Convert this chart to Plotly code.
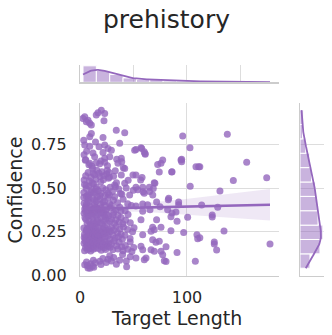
import numpy as np
import plotly.graph_objects as go

# ---- data (Target Length vs Confidence), grouped by confidence band ----
len_b1 = [19.9, 16.8, 23.1, 22.4, 15.2, 4.4, 7.5, 2.8, 5.9]
conf_b1 = [0.948, 0.933, 0.929, 0.887, 0.920, 0.910, 0.890, 0.900, 0.881]

len_b2 = [9.1, 10.6, 33.9, 41.8, 10.6, 9.1, 21.5, 137.7, 96.0]
conf_b2 = [0.872, 0.862, 0.833, 0.818, 0.814, 0.795, 0.791, 0.809, 0.799]

len_b3 = [37.1, 4.4, 9.1, 23.1, 26.2, 12.1, 29.3, 21.5, 3.5, 14.5, 6.2, 17.8,
          102.8, 57.0, 60.0, 52.3, 57.7, 51.1]
conf_b3 = [0.757, 0.747, 0.741, 0.747, 0.728, 0.702, 0.718, 0.705, 0.775, 0.765, 0.712, 0.738,
           0.732, 0.732, 0.709, 0.722, 0.728, 0.718]

len_b4 = [13.7, 23.1, 27.8, 38.6, 34.3, 39.0, 9.1, 15.2, 18.4, 23.1, 35.5, 40.5, 5.0, 11.0, 3.8,
          5.3, 8.3, 11.9, 19.6, 25.7,
          61.0, 60.7, 77.3, 75.7, 72.6, 95.0, 95.0, 94.4, 108.4, 110.9, 112.0, 155.8]
conf_b4 = [0.680, 0.671, 0.680, 0.671, 0.665, 0.651, 0.643, 0.645, 0.640, 0.648, 0.642, 0.617, 0.660, 0.625, 0.692,
           0.662, 0.634, 0.612, 0.655, 0.628,
           0.694, 0.699, 0.661, 0.642, 0.636, 0.665, 0.651, 0.661, 0.622, 0.622, 0.622, 0.649]

len_b5 = [41.8, 38.6, 49.5,
          7.6, 12.3, 15.8, 20.4, 24.9, 27.2, 5.3, 10.1, 13.6, 18.7, 22.2, 26.6, 31.4, 3.9, 8.8, 14.9,
          33.0, 45.0, 19.3, 17.7, 21.9, 25.4, 27.5,
          74.1, 85.7, 86.0, 58.0, 56.7, 52.3, 143.3, 174.5]
conf_b5 = [0.613, 0.575, 0.575,
           0.590, 0.585, 0.602, 0.594, 0.581, 0.589, 0.570, 0.560, 0.576, 0.566, 0.571, 0.556, 0.568, 0.546, 0.541, 0.551,
           0.600, 0.545, 0.535, 0.585, 0.548, 0.603, 0.562,
           0.592, 0.592, 0.594, 0.561, 0.546, 0.575, 0.544, 0.559]

len_b6 = [32.4, 41.8, 49.8, 13.7, 19.9, 26.2, 5.9, 32.4, 46.4,
          4.2, 8.3, 11.2, 15.4, 17.1, 21.3, 24.2, 28.1, 30.3, 36.2, 39.1,
          7.1, 10.4, 23.3, 3.6, 12.7, 18.6, 27.4, 34.1, 43.2,
          5.7, 8.1, 11.4, 13.2, 15.1, 6.0, 33.0, 37.8,
          69.4, 103.0, 58.6, 64.8, 52.3, 54.0, 60.0, 65.0, 68.0, 70.0, 59.0, 68.5, 130.8]
conf_b6 = [0.517, 0.527, 0.488, 0.470, 0.470, 0.472, 0.498, 0.450, 0.460,
           0.520, 0.510, 0.490, 0.505, 0.485, 0.500, 0.490, 0.505, 0.480, 0.495, 0.465,
           0.460, 0.475, 0.455, 0.475, 0.525, 0.455, 0.460, 0.530, 0.500,
           0.515, 0.462, 0.528, 0.478, 0.495, 0.452, 0.508, 0.468,
           0.530, 0.511, 0.504, 0.504, 0.504, 0.490, 0.470, 0.480, 0.460, 0.527, 0.479, 0.498, 0.483]

len_b7 = [7.5, 15.2, 21.5, 29.3, 37.1, 48.0, 10.6, 4.4, 20.0, 24.6,
          3.5, 6.1, 9.2, 12.4, 13.7, 17.3, 18.6, 23.2, 26.1, 27.6, 31.2, 33.4, 35.1, 40.3, 42.2, 44.6,
          5.2, 8.1, 11.6, 14.2, 16.3, 19.1, 22.4, 28.3, 38.2,
          5.2, 8.2, 10.8, 13.4, 15.2, 3.9, 16.8, 22.9,
          71.6, 82.5, 92.2, 92.2, 58.6, 63.2, 52.3, 65.4, 58.6, 81.9, 113.7, 128.7, 82.9, 74.8, 89.7]
conf_b7 = [0.430, 0.425, 0.420, 0.400, 0.390, 0.400, 0.380, 0.380, 0.385, 0.375,
           0.445, 0.410, 0.395, 0.440, 0.405, 0.370, 0.435, 0.400, 0.445, 0.410, 0.430, 0.375, 0.415, 0.435, 0.370, 0.410,
           0.365, 0.445, 0.362, 0.390, 0.450, 0.405, 0.365, 0.385, 0.368,
           0.392, 0.418, 0.372, 0.428, 0.386, 0.412, 0.378, 0.422,
           0.420, 0.433, 0.420, 0.404, 0.408, 0.404, 0.397, 0.375, 0.366, 0.375, 0.402, 0.389, 0.441, 0.393, 0.362]

len_b8 = [30.8, 35.5, 44.9, 7.5, 15.2, 23.0, 3.8,
          5.4, 6.7, 8.3, 9.9, 10.3, 11.9, 12.6, 13.9, 14.4, 16.6, 17.3, 18.9, 19.4, 20.7, 21.6, 22.8, 24.1, 25.6,
          26.7, 28.0, 29.5, 32.2, 33.6, 36.7, 38.4, 40.1, 42.6,
          47.0, 4.6, 7.2, 11.0, 15.8, 19.9, 25.0, 31.5,
          86.0, 90.7, 100.6, 71.6, 57.0, 85.0, 123.6, 123.6]
conf_b8 = [0.345, 0.342, 0.348, 0.339, 0.339, 0.336, 0.355,
           0.320, 0.298, 0.310, 0.350, 0.290, 0.325, 0.305, 0.358, 0.295, 0.318, 0.350, 0.300, 0.330, 0.292, 0.355, 0.312, 0.325, 0.298,
           0.340, 0.308, 0.322, 0.296, 0.318, 0.305, 0.330, 0.295, 0.315,
           0.300, 0.330, 0.360, 0.342, 0.302, 0.360, 0.350, 0.360,
           0.356, 0.309, 0.332, 0.318, 0.318, 0.335, 0.345, 0.333]

len_b9 = [3.6, 4.2, 4.9, 5.8, 6.4, 6.9, 7.4, 7.9, 8.8, 9.2, 9.7, 10.1, 10.6, 11.0, 11.5, 12.4, 12.8,
          13.3, 13.7, 14.2, 14.6, 15.0, 15.5, 3.9, 6.1, 9.5,
          16.4, 17.0, 17.7, 18.3, 19.0, 20.3, 21.0, 21.6, 22.3, 23.0, 23.6, 24.3, 25.0, 26.4, 27.1, 27.8, 28.4, 16.9,
          29.5, 30.6, 31.7, 32.8, 33.9, 35.0, 36.1, 37.3, 38.4, 39.6, 40.7,
          42.0, 44.5, 46.8, 49.1, 50.5,
          134.6, 112.0, 67.9, 69.4, 66.4, 75.7, 85.0, 96.9, 109.3, 110.0, 58.6, 67.9]
conf_b9 = [0.270, 0.235, 0.212, 0.250, 0.222, 0.268, 0.205, 0.245, 0.228, 0.262, 0.210, 0.240, 0.275, 0.218, 0.255, 0.232, 0.208,
           0.265, 0.242, 0.225, 0.278, 0.252, 0.215, 0.215, 0.260, 0.285,
           0.238, 0.270, 0.212, 0.255, 0.229, 0.246, 0.207, 0.266, 0.236, 0.275, 0.218, 0.259, 0.243, 0.225, 0.262, 0.205, 0.250, 0.222,
           0.272, 0.230, 0.258, 0.212, 0.280, 0.244, 0.220, 0.265, 0.235, 0.206, 0.276,
           0.228, 0.262, 0.210, 0.248, 0.272,
           0.253, 0.214, 0.274, 0.260, 0.251, 0.274, 0.255, 0.245, 0.232, 0.209, 0.232, 0.203]

len_b10 = [3.8, 4.3, 4.8, 5.2, 6.2, 6.7, 7.1, 7.6, 8.6, 9.0, 9.5, 10.0, 10.4, 10.9, 11.8, 12.3, 12.8,
           13.7, 14.2, 14.7, 15.6,
           16.3, 17.0, 18.4, 19.1, 19.8, 20.5, 21.2, 22.6, 23.3, 24.0, 24.7, 26.1, 26.8, 28.2,
           29.4, 30.6, 31.8, 34.2, 35.4, 36.6, 39.0, 40.2,
           42.3, 44.6, 46.9, 48.5, 50.2,
           125.5, 125.5, 127.7, 177.6, 71.0, 74.1, 57.0, 58.6, 66.4, 69.4, 75.7, 90.7, 80.4]
conf_b10 = [0.182, 0.140, 0.195, 0.158, 0.172, 0.190, 0.145, 0.165, 0.185, 0.152, 0.198, 0.138, 0.176, 0.160, 0.190, 0.148, 0.168,
            0.183, 0.155, 0.196, 0.174,
            0.188, 0.152, 0.170, 0.194, 0.143, 0.162, 0.181, 0.157, 0.192, 0.147, 0.175, 0.166, 0.186, 0.160,
            0.178, 0.145, 0.195, 0.168, 0.150, 0.188, 0.162, 0.140,
            0.170, 0.148, 0.190, 0.135, 0.158,
            0.190, 0.178, 0.144, 0.178, 0.188, 0.194, 0.165, 0.145, 0.145, 0.136, 0.136, 0.130, 0.163]

len_b11 = [4.4, 7.5, 9.3, 18.4, 26.2, 29.3, 37.1, 43.3, 43.6,
           6.1, 9.9, 11.6, 12.5, 14.3,
           6.9, 19.6, 21.4, 24.5, 27.8, 31.5, 34.0,
           39.8, 47.0, 12.9,
           77.3, 61.7, 60.1, 78.8, 107.8, 52.3, 80.4]
conf_b11 = [0.059, 0.040, 0.039, 0.079, 0.090, 0.080, 0.085, 0.080, 0.048,
            0.075, 0.065, 0.050, 0.085, 0.070,
            0.055, 0.060, 0.095, 0.072, 0.110, 0.100, 0.062,
            0.118, 0.105, 0.045,
            0.117, 0.098, 0.088, 0.082, 0.079, 0.098, 0.077]

title_text = "prehistory"
x_label = "Target Length"
y_label = "Confidence"
x_ticks = [0, 100]
y_ticks = [0.0, 0.25, 0.5, 0.75]
y_tick_text = ["0.00", "0.25", "0.50", "0.75"]

# ---- assemble ----
len_groups = [len_b1, len_b2, len_b3, len_b4, len_b5, len_b6, len_b7, len_b8, len_b9, len_b10, len_b11]
conf_groups = [conf_b1, conf_b2, conf_b3, conf_b4, conf_b5, conf_b6, conf_b7, conf_b8, conf_b9, conf_b10, conf_b11]
xs, ys = [], []
for lg, cg in zip(len_groups, conf_groups, strict=True):
    for a, b in zip(lg, cg, strict=True):
        xs.append(a)
        ys.append(b)
x = np.array(xs)
y = np.array(ys)
n = len(x)

PURPLE = "#9467bd"
BAR_FILL = "rgba(148,103,189,0.5)"
GRID = "#dddddd"
SPINE = "#cccccc"
TXT = "#262626"
FONT = "DejaVu Sans"

# regression with 95% CI
slope, intercept = np.polyfit(x, y, 1)
xg = np.linspace(x.min(), x.max(), 120)
yg = intercept + slope * xg
resid = y - (intercept + slope * x)
s = np.sqrt(np.sum(resid ** 2) / (n - 2))
sxx = np.sum((x - x.mean()) ** 2)
se = s * np.sqrt(1.0 / n + (xg - x.mean()) ** 2 / sxx)
lo, hi = yg - 1.966 * se, yg + 1.966 * se


def kde(vals, grid, scale):
    bw = vals.std(ddof=1) * len(vals) ** (-0.2)
    d = np.exp(-0.5 * ((grid[:, None] - vals[None, :]) / bw) ** 2).sum(axis=1)
    d /= (len(vals) * bw * np.sqrt(2 * np.pi))
    return d * len(vals) * scale


x_edges = np.linspace(x.min(), x.max(), 15)
y_edges = np.linspace(y.min(), y.max(), 12)
xc, _ = np.histogram(x, bins=x_edges)
yc, _ = np.histogram(y, bins=y_edges)
xw = x_edges[1] - x_edges[0]
yw = y_edges[1] - y_edges[0]
xkg = np.linspace(x.min(), x.max(), 200)
ykg = np.linspace(y.min(), y.max(), 200)
xk = kde(x, xkg, xw)
yk = kde(y, ykg, yw)

fig = go.Figure()
fig.add_trace(go.Scatter(x=x, y=y, mode="markers", xaxis="x", yaxis="y",
                         marker=dict(color=PURPLE, opacity=0.8, size=7, line=dict(width=0)),
                         showlegend=False, hoverinfo="skip"))
fig.add_trace(go.Scatter(x=np.concatenate([xg, xg[::-1]]), y=np.concatenate([hi, lo[::-1]]),
                         fill="toself", fillcolor="rgba(148,103,189,0.15)", line=dict(width=0),
                         mode="lines", xaxis="x", yaxis="y", showlegend=False, hoverinfo="skip"))
fig.add_trace(go.Scatter(x=xg, y=yg, mode="lines", line=dict(color=PURPLE, width=2.6),
                         xaxis="x", yaxis="y", showlegend=False, hoverinfo="skip"))
fig.add_trace(go.Bar(x=(x_edges[:-1] + x_edges[1:]) / 2, y=xc, width=xw, xaxis="x2", yaxis="y2",
                     marker=dict(color=BAR_FILL, line=dict(color="white", width=1)),
                     showlegend=False, hoverinfo="skip"))
fig.add_trace(go.Scatter(x=xkg, y=xk, mode="lines", line=dict(color=PURPLE, width=1.8),
                         xaxis="x2", yaxis="y2", showlegend=False, hoverinfo="skip"))
fig.add_trace(go.Bar(y=(y_edges[:-1] + y_edges[1:]) / 2, x=yc, width=yw, orientation="h",
                     xaxis="x3", yaxis="y3",
                     marker=dict(color=BAR_FILL, line=dict(color="white", width=1)),
                     showlegend=False, hoverinfo="skip"))
fig.add_trace(go.Scatter(x=yk, y=ykg, mode="lines", line=dict(color=PURPLE, width=1.8),
                         xaxis="x3", yaxis="y3", showlegend=False, hoverinfo="skip"))

W, H = 332, 335


def px(v):
    return v / W


def py(v):
    return 1 - v / H


main_x = [px(80), px(279)]
main_y = [py(275.7), py(103)]
top_y = [py(82.3), py(65)]
right_x = [px(300), px(324)]

tickfont = dict(family=FONT, size=16, color=TXT)
common = dict(showline=True, linecolor=SPINE, linewidth=1.2, zeroline=False, gridcolor=GRID, gridwidth=1,
              automargin=False)

fig.update_layout(
    width=W, height=H, margin=dict(l=0, r=0, t=0, b=0, autoexpand=False),
    paper_bgcolor="white", plot_bgcolor="white",
    font=dict(family=FONT, color=TXT),
    bargap=0,
    xaxis=dict(domain=main_x, range=[0, 186], tickvals=x_ticks, showgrid=True,
               tickfont=tickfont, ticks="outside", ticklen=7, tickcolor="rgba(0,0,0,0)", anchor="y", **common),
    yaxis=dict(domain=main_y, range=[-0.004, 0.989], tickvals=y_ticks, ticktext=y_tick_text, showgrid=True,
               tickfont=tickfont, ticks="outside", ticklen=9, tickcolor="rgba(0,0,0,0)", anchor="x", **common),
    xaxis2=dict(domain=main_x, matches="x", anchor="y2", showticklabels=False, showgrid=True, **common),
    yaxis2=dict(domain=top_y, range=[0, xc.max() * 1.05], anchor="x2", showticklabels=False, showgrid=False, **common),
    xaxis3=dict(domain=right_x, range=[0, yc.max() * 1.05], anchor="y3", showticklabels=False, showgrid=False, **common),
    yaxis3=dict(domain=main_y, matches="y", anchor="x3", showticklabels=False, showgrid=True,
                tickvals=y_ticks, **common),
    annotations=[
        dict(text=title_text, x=0.5, y=py(19), xref="paper", yref="paper", showarrow=False,
             xanchor="center", yanchor="middle", font=dict(family=FONT, size=25, color=TXT)),
        dict(text=x_label, x=px(176.7), y=py(318), xref="paper", yref="paper",
             showarrow=False, xanchor="center", yanchor="middle", font=dict(family=FONT, size=19, color=TXT)),
        dict(text=y_label, x=px(14.5), y=py(190), xref="paper", yref="paper", textangle=-90,
             showarrow=False, xanchor="center", yanchor="middle", font=dict(family=FONT, size=19, color=TXT)),
    ],
)

# remove the page's default body margin so the figure sits at the window origin
fig.write_html("out.html", config={"displayModeBar": False, "staticPlot": True},
               post_script="document.body.style.margin='0';")
